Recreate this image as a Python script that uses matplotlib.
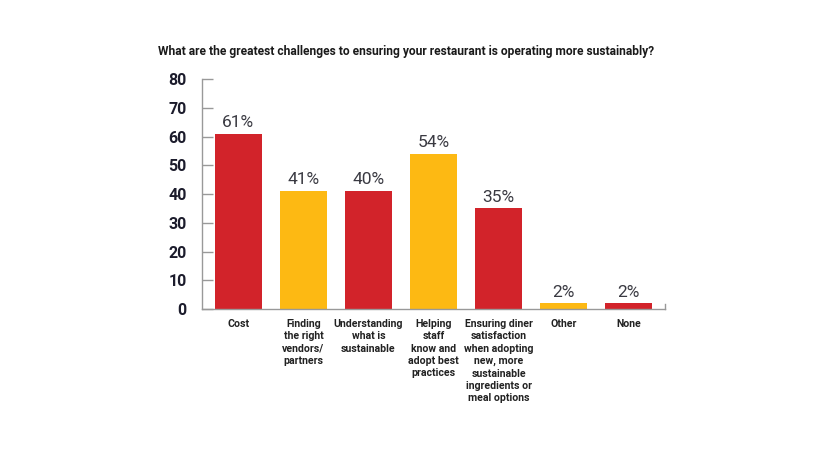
import matplotlib.pyplot as plt

categories = [
    "Cost",
    "Finding\nthe right\nvendors/\npartners",
    "Understanding\nwhat is\nsustainable",
    "Helping\nstaff\nknow and\nadopt best\npractices",
    "Ensuring diner\nsatisfaction\nwhen adopting\nnew, more\nsustainable\ningredients or\nmeal options",
    "Other",
    "None",
]
values = [61, 41, 41, 54, 35, 2, 2]
value_labels = ["61%", "41%", "40%", "54%", "35%", "2%", "2%"]
y_ticks = [0, 10, 20, 30, 40, 50, 60, 70, 80]
title = "What are the greatest challenges to ensuring your restaurant is operating more sustainably?"

RED = "#D2232A"
YELLOW = "#FDB913"
colors = [RED, YELLOW, RED, YELLOW, RED, YELLOW, RED]
FONT = ["Roboto", "DejaVu Sans"]

fig = plt.figure(figsize=(8.2, 4.5), dpi=100)
ax = fig.add_axes([0.2463, 0.3133, 0.5647, 0.5111])

x = list(range(len(categories)))
ax.bar(x, values, width=0.72, color=colors, zorder=2)

for xi, v, lab in zip(x, values, value_labels):
    ax.text(xi, v + 1.3, lab, ha="center", va="bottom", fontsize=12.5,
            family=FONT, fontweight="normal", color="#3a3a42")

ax.set_xlim(-0.56, 6.56)
ax.set_ylim(0, 80)
ax.set_yticks(y_ticks)
ax.set_yticklabels([str(t) for t in y_ticks], family=FONT, fontweight="bold",
                   fontsize=11.5, color="#1c1c2c")
ax.tick_params(axis="y", direction="in", length=8, width=1, color="#999999", pad=11)

ax.set_xticks(x)
ax.set_xticklabels(categories, family=FONT, fontweight="bold", fontsize=7.6,
                   color="#222222", va="top", linespacing=1.3)
ax.tick_params(axis="x", length=0, pad=7)

for side in ["top", "right"]:
    ax.spines[side].set_visible(False)
for side in ["left", "bottom"]:
    ax.spines[side].set_color("#999999")
    ax.spines[side].set_linewidth(1)

# small end tick on the right of the baseline
ax.plot([1, 1], [0, 0.02], transform=ax.transAxes, color="#999999", lw=1, clip_on=False)

# title, sized so it spans the same width as in the reference
t = fig.text(158 / 820, 1 - 52 / 450, title, family=FONT, fontweight="bold",
             fontsize=10, color="#1a1a1a", ha="left", va="center")
r = fig.canvas.get_renderer()
w = t.get_window_extent(renderer=r).width
t.set_fontsize(10 * 497 / w)

fig.savefig("out.png", dpi=100)
